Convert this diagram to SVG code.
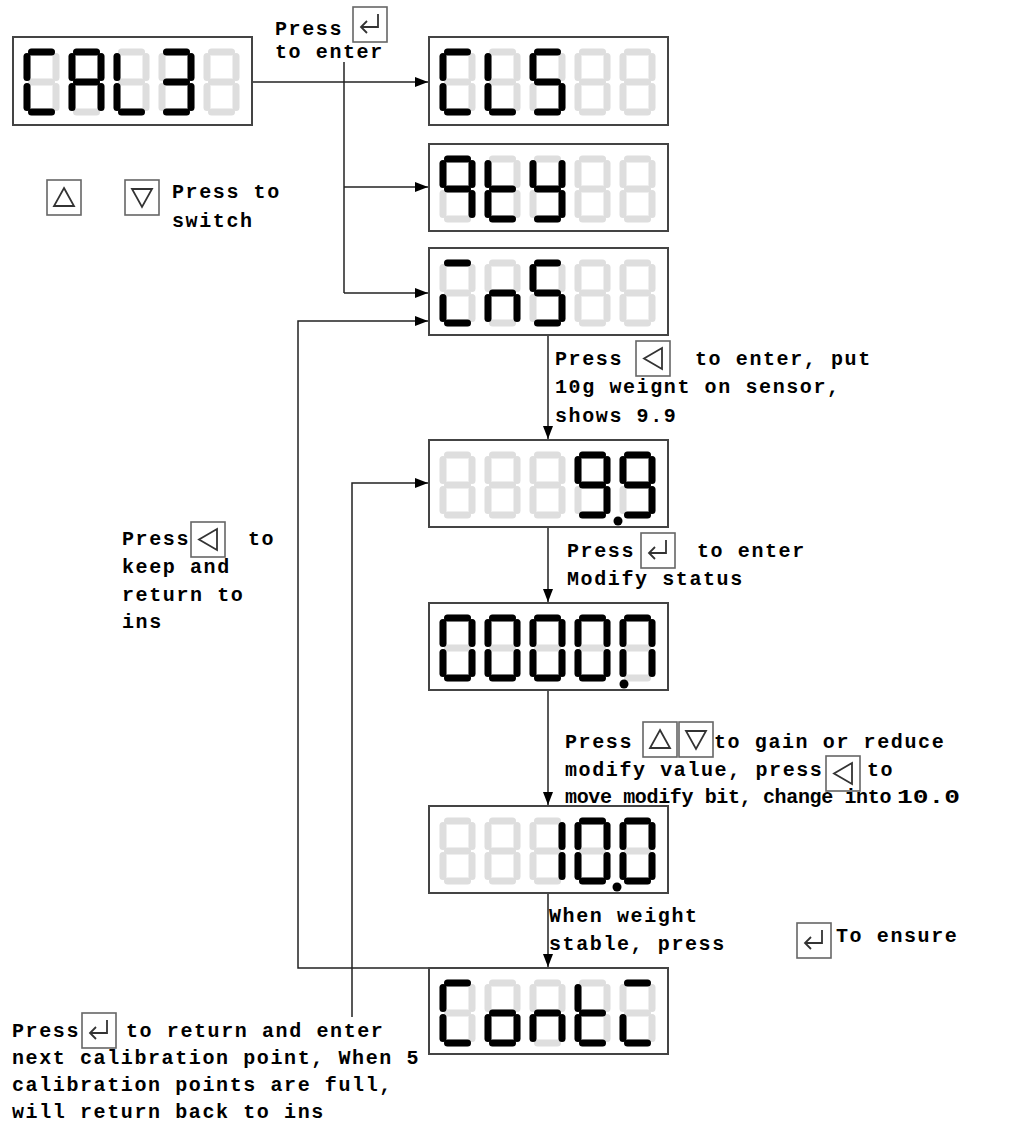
<svg xmlns="http://www.w3.org/2000/svg" xmlns:xlink="http://www.w3.org/1999/xlink" width="1019" height="1127" viewBox="0 0 1019 1127">
<style>
.bg{fill:#fff}
.box{fill:#fff;stroke:#444;stroke-width:2}
.seg{fill:none;stroke-width:7;stroke-linecap:round}
.on{stroke:#000}
.off{stroke:#dedede}
.dot{fill:#000}
.ln{fill:none;stroke:#222;stroke-width:1.5}
.t{font-family:"Liberation Mono",monospace;font-size:20px;font-weight:bold;letter-spacing:1.6px;fill:#000}
.ib{fill:#fff;stroke:#666;stroke-width:1.6}
.ig{fill:none;stroke:#333;stroke-width:1.8}
</style>
<defs>
<marker id="ah" markerWidth="13" markerHeight="10" refX="13" refY="5" orient="auto" markerUnits="userSpaceOnUse"><path d="M0,0 L13,5 L0,10 Z" fill="#000"/></marker>
<g id="d8">
<path id="sa" class="seg" d="M7.5,3H27.5"/>
<path id="sb" class="seg" d="M32,7.5V28.5"/>
<path id="sc" class="seg" d="M32,37.5V58.5"/>
<path id="sd" class="seg" d="M7.5,63H27.5"/>
<path id="se" class="seg" d="M3,37.5V58.5"/>
<path id="sf" class="seg" d="M3,7.5V28.5"/>
<path id="sg" class="seg" d="M7.5,33H27.5"/>
</g>
<g id="ienter"><rect class="ib" x="0" y="0" width="34" height="35"/><path class="ig" d="M25,7V20H8M14,14L8,20L14,26"/></g>
<g id="iup"><rect class="ib" x="0" y="0" width="34" height="35"/><path class="ig" d="M17,8L27,26H7Z"/></g>
<g id="idown"><rect class="ib" x="0" y="0" width="34" height="35"/><path class="ig" d="M7,9H27L17,27Z"/></g>
<g id="ileft"><rect class="ib" x="0" y="0" width="34" height="35"/><path class="ig" d="M26,7V28L8,17.5Z"/></g>
</defs>
<rect class="bg" x="0" y="0" width="1019" height="1127"/>

<g id="connectors">
<path class="ln" d="M252,82H428" marker-end="url(#ah)"/>
<path class="ln" d="M344,62V293"/>
<path class="ln" d="M344,187H428" marker-end="url(#ah)"/>
<path class="ln" d="M344,293H428" marker-end="url(#ah)"/>
<path class="ln" d="M429,968H298V321H428" marker-end="url(#ah)"/>
<path class="ln" d="M352,1017V483H428" marker-end="url(#ah)"/>
<path class="ln" d="M548,335V439" marker-end="url(#ah)"/>
<path class="ln" d="M548,527V602" marker-end="url(#ah)"/>
<path class="ln" d="M548,690V805" marker-end="url(#ah)"/>
<path class="ln" d="M548,893V967" marker-end="url(#ah)"/>
</g>

<g id="node-cal3">
<rect class="box" x="13" y="37" width="239" height="88"/>
<g transform="translate(24,49)"><use href="#d8" class="off"/><use href="#sa" class="on"/><use href="#sf" class="on"/><use href="#se" class="on"/><use href="#sd" class="on"/></g>
<g transform="translate(69,49)"><use href="#d8" class="off"/><use href="#sa" class="on"/><use href="#sb" class="on"/><use href="#sc" class="on"/><use href="#se" class="on"/><use href="#sf" class="on"/><use href="#sg" class="on"/></g>
<g transform="translate(114,49)"><use href="#d8" class="off"/><use href="#sf" class="on"/><use href="#se" class="on"/><use href="#sd" class="on"/></g>
<g transform="translate(159,49)"><use href="#d8" class="off"/><use href="#sa" class="on"/><use href="#sb" class="on"/><use href="#sc" class="on"/><use href="#sd" class="on"/><use href="#sg" class="on"/></g>
<g transform="translate(204,49)"><use href="#d8" class="off"/></g>
</g>

<g id="node-cls">
<rect class="box" x="429" y="37" width="239" height="88"/>
<g transform="translate(440,49)"><use href="#d8" class="off"/><use href="#sa" class="on"/><use href="#sf" class="on"/><use href="#se" class="on"/><use href="#sd" class="on"/></g>
<g transform="translate(485,49)"><use href="#d8" class="off"/><use href="#sf" class="on"/><use href="#se" class="on"/><use href="#sd" class="on"/></g>
<g transform="translate(530,49)"><use href="#d8" class="off"/><use href="#sa" class="on"/><use href="#sf" class="on"/><use href="#sg" class="on"/><use href="#sc" class="on"/><use href="#sd" class="on"/></g>
<g transform="translate(575,49)"><use href="#d8" class="off"/></g>
<g transform="translate(620,49)"><use href="#d8" class="off"/></g>
</g>

<g id="node-qty">
<rect class="box" x="429" y="144" width="239" height="87"/>
<g transform="translate(440,156)"><use href="#d8" class="off"/><use href="#sa" class="on"/><use href="#sb" class="on"/><use href="#sc" class="on"/><use href="#sf" class="on"/><use href="#sg" class="on"/></g>
<g transform="translate(485,156)"><use href="#d8" class="off"/><use href="#sf" class="on"/><use href="#se" class="on"/><use href="#sg" class="on"/><use href="#sd" class="on"/></g>
<g transform="translate(530,156)"><use href="#d8" class="off"/><use href="#sf" class="on"/><use href="#sb" class="on"/><use href="#sg" class="on"/><use href="#sc" class="on"/><use href="#sd" class="on"/></g>
<g transform="translate(575,156)"><use href="#d8" class="off"/></g>
<g transform="translate(620,156)"><use href="#d8" class="off"/></g>
</g>

<g id="node-cns">
<rect class="box" x="429" y="248" width="239" height="87"/>
<g transform="translate(440,260)"><use href="#d8" class="off"/><use href="#sa" class="on"/><use href="#se" class="on"/><use href="#sd" class="on"/></g>
<g transform="translate(485,260)"><use href="#d8" class="off"/><use href="#sg" class="on"/><use href="#se" class="on"/><use href="#sc" class="on"/></g>
<g transform="translate(530,260)"><use href="#d8" class="off"/><use href="#sa" class="on"/><use href="#sf" class="on"/><use href="#sg" class="on"/><use href="#sc" class="on"/><use href="#sd" class="on"/></g>
<g transform="translate(575,260)"><use href="#d8" class="off"/></g>
<g transform="translate(620,260)"><use href="#d8" class="off"/></g>
</g>

<g id="node-99">
<rect class="box" x="429" y="440" width="239" height="87"/>
<g transform="translate(440,452)"><use href="#d8" class="off"/></g>
<g transform="translate(485,452)"><use href="#d8" class="off"/></g>
<g transform="translate(530,452)"><use href="#d8" class="off"/></g>
<g transform="translate(575,452)"><use href="#d8" class="off"/><use href="#sa" class="on"/><use href="#sb" class="on"/><use href="#sc" class="on"/><use href="#sd" class="on"/><use href="#sf" class="on"/><use href="#sg" class="on"/></g>
<g transform="translate(620,452)"><use href="#d8" class="off"/><use href="#sa" class="on"/><use href="#sb" class="on"/><use href="#sc" class="on"/><use href="#sd" class="on"/><use href="#sf" class="on"/><use href="#sg" class="on"/></g>
<circle class="dot" cx="618" cy="521" r="4.5"/>
</g>

<g id="node-00000">
<rect class="box" x="429" y="603" width="239" height="87"/>
<g transform="translate(440,615)"><use href="#d8" class="off"/><use href="#sa" class="on"/><use href="#sb" class="on"/><use href="#sc" class="on"/><use href="#sd" class="on"/><use href="#se" class="on"/><use href="#sf" class="on"/></g>
<g transform="translate(485,615)"><use href="#d8" class="off"/><use href="#sa" class="on"/><use href="#sb" class="on"/><use href="#sc" class="on"/><use href="#sd" class="on"/><use href="#se" class="on"/><use href="#sf" class="on"/></g>
<g transform="translate(530,615)"><use href="#d8" class="off"/><use href="#sa" class="on"/><use href="#sb" class="on"/><use href="#sc" class="on"/><use href="#sd" class="on"/><use href="#se" class="on"/><use href="#sf" class="on"/></g>
<g transform="translate(575,615)"><use href="#d8" class="off"/><use href="#sa" class="on"/><use href="#sb" class="on"/><use href="#sc" class="on"/><use href="#sd" class="on"/><use href="#se" class="on"/><use href="#sf" class="on"/></g>
<g transform="translate(620,615)"><use href="#d8" class="off"/><use href="#sa" class="on"/><use href="#sb" class="on"/><use href="#sc" class="on"/><use href="#se" class="on"/><use href="#sf" class="on"/></g>
<circle class="dot" cx="624" cy="684" r="4.5"/>
</g>

<g id="node-100">
<rect class="box" x="429" y="806" width="239" height="87"/>
<g transform="translate(440,818)"><use href="#d8" class="off"/></g>
<g transform="translate(485,818)"><use href="#d8" class="off"/></g>
<g transform="translate(530,818)"><use href="#d8" class="off"/><use href="#sb" class="on"/><use href="#sc" class="on"/></g>
<g transform="translate(575,818)"><use href="#d8" class="off"/><use href="#sa" class="on"/><use href="#sb" class="on"/><use href="#sc" class="on"/><use href="#sd" class="on"/><use href="#se" class="on"/><use href="#sf" class="on"/></g>
<g transform="translate(620,818)"><use href="#d8" class="off"/><use href="#sa" class="on"/><use href="#sb" class="on"/><use href="#sc" class="on"/><use href="#sd" class="on"/><use href="#se" class="on"/><use href="#sf" class="on"/></g>
<circle class="dot" cx="617" cy="887" r="4.5"/>
</g>

<g id="node-contc">
<rect class="box" x="429" y="968" width="239" height="86"/>
<g transform="translate(440,980)"><use href="#d8" class="off"/><use href="#sa" class="on"/><use href="#sf" class="on"/><use href="#se" class="on"/><use href="#sd" class="on"/></g>
<g transform="translate(485,980)"><use href="#d8" class="off"/><use href="#sg" class="on"/><use href="#se" class="on"/><use href="#sc" class="on"/><use href="#sd" class="on"/></g>
<g transform="translate(530,980)"><use href="#d8" class="off"/><use href="#sg" class="on"/><use href="#se" class="on"/><use href="#sc" class="on"/></g>
<g transform="translate(575,980)"><use href="#d8" class="off"/><use href="#sf" class="on"/><use href="#se" class="on"/><use href="#sg" class="on"/><use href="#sd" class="on"/></g>
<g transform="translate(620,980)"><use href="#d8" class="off"/><use href="#sa" class="on"/><use href="#se" class="on"/><use href="#sd" class="on"/></g>
</g>

<g id="labels">
<text class="t" x="275" y="35">Press</text>
<use href="#ienter" x="353" y="7"/>
<text class="t" x="275" y="58">to enter</text>

<use href="#iup" x="47" y="180"/>
<use href="#idown" x="125" y="180"/>
<text class="t" x="172" y="198">Press to</text>
<text class="t" x="172" y="227">switch</text>

<text class="t" x="555" y="365">Press</text>
<use href="#ileft" x="636" y="341"/>
<text class="t" x="695" y="365">to enter, put</text>
<text class="t" x="555" y="393">10g weignt on sensor,</text>
<text class="t" x="555" y="422">shows 9.9</text>

<text class="t" x="567" y="557">Press</text>
<use href="#ienter" x="641" y="533"/>
<text class="t" x="697" y="557">to enter</text>
<text class="t" x="567" y="585">Modify status</text>

<text class="t" x="565" y="748">Press</text>
<use href="#iup" x="643" y="722"/>
<use href="#idown" x="679" y="722"/>
<text class="t" x="714" y="748">to gain or reduce</text>
<text class="t" x="565" y="776">modify value, press</text>
<use href="#ileft" x="826" y="756"/>
<text class="t" x="867" y="776">to</text>
<text class="t" x="565" y="803" textLength="328" lengthAdjust="spacing">move modify bit, change into</text>
<text class="t" x="897" y="803" textLength="63" lengthAdjust="spacingAndGlyphs" style="letter-spacing:0">10.0</text>

<text class="t" x="549" y="922">When weight</text>
<text class="t" x="549" y="950">stable, press</text>
<use href="#ienter" x="797" y="923"/>
<text class="t" x="836" y="942">To ensure</text>

<text class="t" x="122" y="545">Press</text>
<use href="#ileft" x="191" y="522"/>
<text class="t" x="248" y="545">to</text>
<text class="t" x="122" y="573">keep and</text>
<text class="t" x="122" y="601">return to</text>
<text class="t" x="122" y="628">ins</text>

<text class="t" x="12" y="1037">Press</text>
<use href="#ienter" x="82" y="1013"/>
<text class="t" x="126" y="1037">to return and enter</text>
<text class="t" x="12" y="1064">next calibration point, When 5</text>
<text class="t" x="12" y="1091">calibration points are full,</text>
<text class="t" x="12" y="1118">will return back to ins</text>
</g>
</svg>
